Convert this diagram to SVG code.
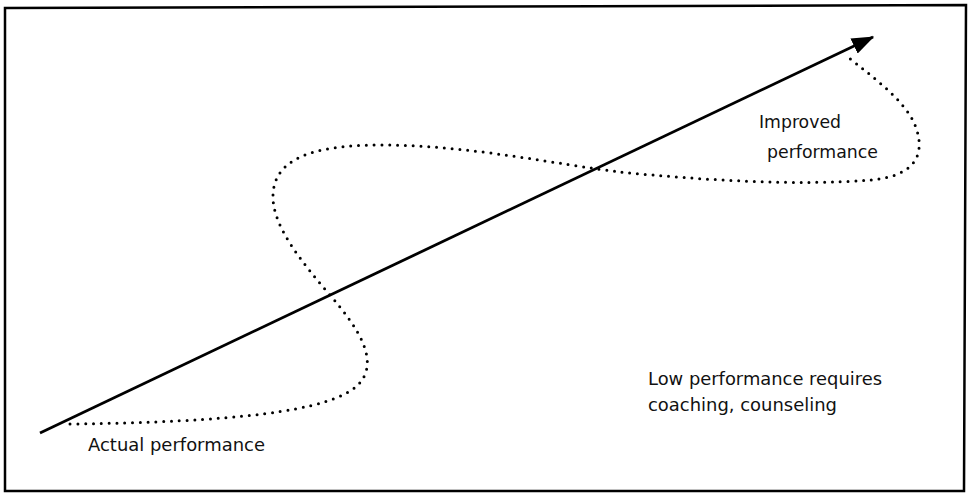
<svg xmlns="http://www.w3.org/2000/svg" width="970" height="494" viewBox="0 0 970 494">
<style>
.lbl{font-family:"DejaVu Sans","Liberation Sans",sans-serif;font-size:17px;fill:#111}
.dots{fill:none;stroke:#000;stroke-width:3;stroke-linecap:round;stroke-dasharray:0 7.8}
.axis{fill:none;stroke:#000;stroke-width:2.8}
.frame{fill:#fff;stroke:#000;stroke-width:2.5}
</style>
<defs>
<marker id="ah" markerWidth="8" markerHeight="6" refX="7.5" refY="3" orient="auto" markerUnits="strokeWidth">
<path d="M0,0 L8,3 L0,6 Z" fill="#000"/>
</marker>
</defs>
<path id="frame" class="frame" d="M5,8 L966,5 L964,491 L5,491 Z"/>
<g id="connectors">
<path id="trend" class="axis" d="M40,433 L873,37" marker-end="url(#ah)"/>
<path id="performance-curve" class="dots" d="M70,424 C230,422 330,412 358,385 C380,362 360,330 330,295 C300,260 272,225 273,195 C274,160 310,145 380,145 C470,145 560,165 620,172 C700,180 800,186 870,180 C920,176 925,150 915,125 C905,100 870,75 848,57"/>
</g>
<g id="label-actual"><text class="lbl" x="88" y="451" textLength="177" lengthAdjust="spacingAndGlyphs">Actual performance</text></g>
<g id="label-improved">
<text class="lbl" x="759" y="128" textLength="82" lengthAdjust="spacingAndGlyphs">Improved</text>
<text class="lbl" x="767" y="158" textLength="111" lengthAdjust="spacingAndGlyphs">performance</text>
</g>
<g id="label-low">
<text class="lbl" x="648" y="385" textLength="234" lengthAdjust="spacingAndGlyphs">Low performance requires</text>
<text class="lbl" x="648" y="411" textLength="189" lengthAdjust="spacingAndGlyphs">coaching, counseling</text>
</g>
</svg>
